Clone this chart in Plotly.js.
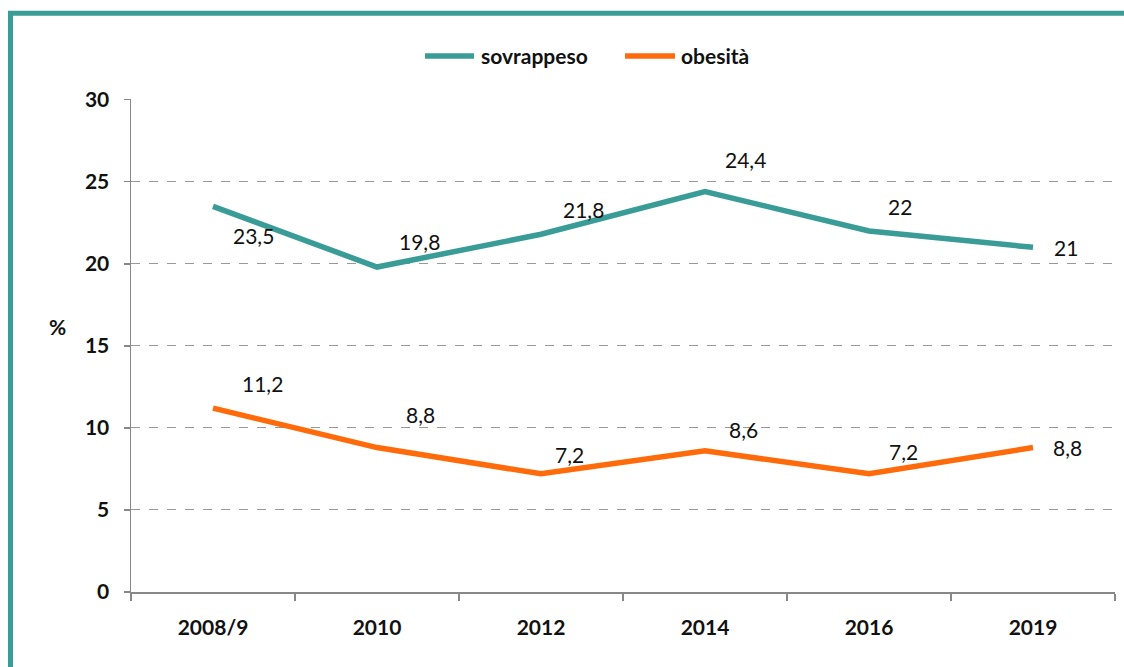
<!DOCTYPE html>
<html>
<head>
<meta charset="utf-8">
<script src="https://cdn.plot.ly/plotly-3.0.1.min.js"></script>
<style>html,body{margin:0;padding:0;background:#fff;}#chart{width:1124px;height:667px;}</style>
</head>
<body>
<div id="chart"></div>
<script>
const categories = ["2008/9", "2010", "2012", "2014", "2016", "2019"];
const sovrappeso = [23.5, 19.8, 21.8, 24.4, 22, 21];
const obesita = [11.2, 8.8, 7.2, 8.6, 7.2, 8.8];
const yTicks = [0, 5, 10, 15, 20, 25, 30];
const seriesNames = ["sovrappeso", "obesità"];

// label offsets in px (styling)
const sovOffsets = [[40, -29], [42, 26], [42, 25], [40, 32], [31, 24], [33, 0]];
const obeOffsets = [[49, 25], [43, 33], [28, 19], [38, 21], [34, 22], [34, 0]];

const teal = "#3A9C96";
const orange = "#FF6A0A";
const fontFam = "Lato, 'Open Sans', sans-serif";

function fmt(v) { return String(v).replace(".", ","); }
function px(x) { return (x - 131) / 984; }
function py(y) { return (592 - y) / 493; }

const annotations = [];
sovrappeso.forEach((v, i) => {
  annotations.push({x: i, y: v, xref: "x", yref: "y", text: fmt(v), showarrow: false,
    xshift: sovOffsets[i][0], yshift: sovOffsets[i][1], font: {family: fontFam, size: 21, color: "#111"}});
});
obesita.forEach((v, i) => {
  annotations.push({x: i, y: v, xref: "x", yref: "y", text: fmt(v), showarrow: false,
    xshift: obeOffsets[i][0], yshift: obeOffsets[i][1], font: {family: fontFam, size: 21, color: "#111"}});
});
annotations.push({x: px(57), y: py(326), xref: "paper", yref: "paper", xanchor: "center", yanchor: "middle",
  text: "<b>%</b>", showarrow: false, font: {family: fontFam, size: 21, color: "#111"}});
// manual legend text
annotations.push({x: px(479), y: py(56), xref: "paper", yref: "paper", xanchor: "left", yanchor: "middle",
  text: "<b>" + seriesNames[0] + "</b>", showarrow: false, font: {family: fontFam, size: 21, color: "#111"}});
annotations.push({x: px(679), y: py(56), xref: "paper", yref: "paper", xanchor: "left", yanchor: "middle",
  text: "<b>" + seriesNames[1] + "</b>", showarrow: false, font: {family: fontFam, size: 21, color: "#111"}});

const traces = [
  {x: categories, y: sovrappeso, type: "scatter", mode: "lines", name: seriesNames[0],
   line: {color: teal, width: 5.5}},
  {x: categories, y: obesita, type: "scatter", mode: "lines", name: seriesNames[1],
   line: {color: orange, width: 5.5}}
];

const layout = {
  width: 1124, height: 667,
  margin: {l: 131, r: 9, t: 99, b: 75},
  paper_bgcolor: "#fff", plot_bgcolor: "#fff",
  font: {family: fontFam, color: "#111"},
  showlegend: false,
  xaxis: {type: "category", range: [-0.5, 5.5], showline: true, linecolor: "#888", linewidth: 1.5,
    ticks: "outside", tickson: "boundaries", ticklen: 7, tickcolor: "#888", tickwidth: 1.5,
    ticklabelstandoff: 16,
    showgrid: false, tickfont: {family: fontFam, size: 21, color: "#111", weight: "bold"}, zeroline: false},
  yaxis: {range: [0, 30.04], tickvals: yTicks, showline: true, linecolor: "#888", linewidth: 1.5,
    ticks: "outside", ticklen: 6, tickcolor: "#888", tickwidth: 1.5, ticklabelstandoff: 10,
    showgrid: true, gridcolor: "#999", griddash: "dash", gridwidth: 1, zeroline: false,
    tickfont: {family: fontFam, size: 21, color: "#111", weight: "bold"}},
  annotations: annotations,
  shapes: [
    {type: "line", xref: "paper", yref: "paper", x0: px(10.5), x1: px(10.5),
     y0: py(11), y1: py(680), line: {color: teal, width: 5}},
    {type: "line", xref: "paper", yref: "paper", x0: px(8), x1: px(1130),
     y0: py(13.3), y1: py(13.3), line: {color: teal, width: 5}},
    {type: "line", xref: "paper", yref: "paper", x0: px(425), x1: px(474),
     y0: py(56), y1: py(56), line: {color: teal, width: 5.5}},
    {type: "line", xref: "paper", yref: "paper", x0: px(625), x1: px(675),
     y0: py(56), y1: py(56), line: {color: orange, width: 5.5}}
  ]
};

Plotly.newPlot("chart", traces, layout, {displayModeBar: false, staticPlot: true});
</script>
</body>
</html>
